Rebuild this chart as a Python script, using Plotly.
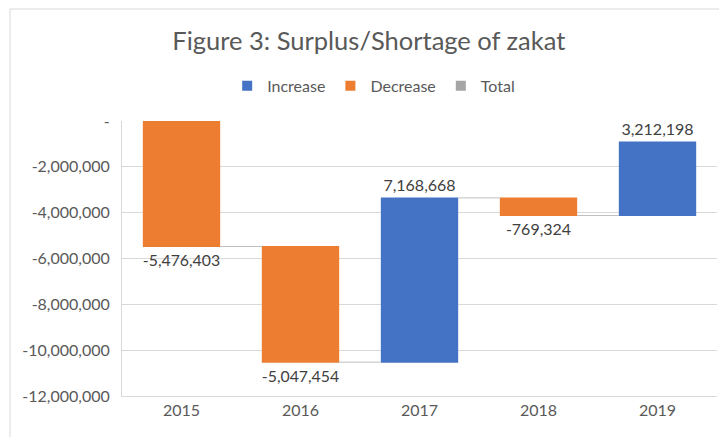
import plotly.graph_objects as go

years = ["2015", "2016", "2017", "2018", "2019"]
changes = [-5476403, -5047454, 7168668, -769324, 3212198]
tick_vals = [0, -2000000, -4000000, -6000000, -8000000, -10000000, -12000000]
tick_text = ["-", "-2,000,000", "-4,000,000", "-6,000,000", "-8,000,000", "-10,000,000", "-12,000,000"]
legend_names = ["Increase", "Decrease", "Total"]
legend_colors = ["#4472C4", "#ED7D31", "#A5A5A5"]

FONT = "Lato, 'Open Sans', sans-serif"
W, H = 719, 437
ML, MR, MT, MB = 122, 2, 121, 41

fig = go.Figure()
fig.add_trace(go.Waterfall(
    x=years,
    y=changes,
    measure=["relative"] * len(changes),
    text=[f"{v:,}" for v in changes],
    textposition="outside",
    textfont=dict(family=FONT, size=16, color="#404040"),
    increasing=dict(marker=dict(color=legend_colors[0])),
    decreasing=dict(marker=dict(color=legend_colors[1])),
    totals=dict(marker=dict(color=legend_colors[2])),
    connector=dict(line=dict(color="#BFBFBF", width=1)),
    width=0.65,
    showlegend=False,
    cliponaxis=False,
    hoverinfo="skip",
))

for name, col in zip(legend_names, legend_colors):
    fig.add_trace(go.Scatter(
        x=[None], y=[None], mode="markers", name=name,
        marker=dict(symbol="square", size=10, color=col),
    ))

# chart frame (left and top border)
x0 = -ML / (W - ML - MR) + 10 / (W - ML - MR)
y1 = 1 + (MT - 9) / (H - MT - MB)
fig.add_shape(type="line", xref="paper", yref="paper", x0=x0, x1=x0, y0=-MB / (H - MT - MB), y1=y1,
              line=dict(color="#D9D9D9", width=1))
fig.add_shape(type="line", xref="paper", yref="paper", x0=x0, x1=1 + MR / (W - ML - MR), y0=y1, y1=y1,
              line=dict(color="#D9D9D9", width=1))

fig.update_layout(
    width=W, height=H,
    margin=dict(l=ML, r=MR, t=MT, b=MB),
    paper_bgcolor="white", plot_bgcolor="white",
    font=dict(family=FONT, color="#595959"),
    title=dict(text="Figure 3: Surplus/Shortage of zakat", x=0.513, xanchor="center",
               y=0.905, yanchor="middle", font=dict(family=FONT, size=25.5, color="#595959")),
    legend=dict(orientation="h", x=0.423, xanchor="center", y=1.128, yanchor="middle",
                font=dict(family=FONT, size=16, color="#595959"), itemwidth=30,
                bgcolor="rgba(0,0,0,0)"),
    xaxis=dict(type="category", showgrid=False, showline=True, linecolor="#D9D9D9",
               ticks="", tickfont=dict(family=FONT, size=16, color="#595959")),
    yaxis=dict(range=[-12000000, 0], tickvals=tick_vals, ticktext=tick_text,
               showgrid=True, gridcolor="#D9D9D9", gridwidth=1, zeroline=False,
               showline=True, linecolor="#D9D9D9", ticks="",
               tickfont=dict(family=FONT, size=16, color="#595959"), ticklabelstandoff=8),
)

fig.write_html("out.html")
